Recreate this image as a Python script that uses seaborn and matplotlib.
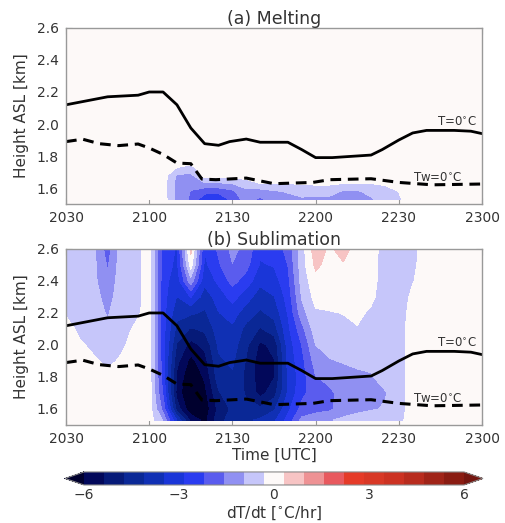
import numpy as np
import matplotlib
matplotlib.use("Agg")
import matplotlib.pyplot as plt
from matplotlib.colors import ListedColormap, BoundaryNorm
import seaborn as sns

sns.set_style("white")
plt.rcParams["font.family"] = ["DejaVu Sans"]
plt.rcParams["text.color"] = "#333333"
plt.rcParams["axes.labelcolor"] = "#333333"
plt.rcParams["xtick.color"] = "#333333"
plt.rcParams["ytick.color"] = "#333333"

# ---- axes ticks (time in minutes after 2030 UTC) ----
tick_minutes = [0, 30, 60, 90, 120, 150]
tick_labels = ["2030", "2100", "2130", "2200", "2230", "2300"]
height_ticks = [1.6, 1.8, 2.0, 2.2, 2.4, 2.6]
cbar_ticks = [-6, -3, 0, 3, 6]

# ---- 0 degC isotherm height (km) ----
t0_minutes = [0, 15, 26, 30, 35, 40, 45, 50, 55, 59, 65, 70, 80, 85, 90, 96,
              110, 114, 120, 125, 130, 140, 146, 150]
t0_height = [2.12, 2.17, 2.18, 2.20, 2.20, 2.12, 1.975, 1.877, 1.867, 1.89,
             1.906, 1.886, 1.886, 1.84, 1.79, 1.79, 1.806, 1.84, 1.90, 1.944,
             1.96, 1.96, 1.955, 1.94]

# ---- wet-bulb 0 degC height (km) ----
tw_minutes = [0, 6, 12, 19, 26, 30, 35, 40, 45, 49, 54, 65, 75, 89, 95, 110,
              120, 132, 150]
tw_height = [1.89, 1.905, 1.877, 1.865, 1.875, 1.85, 1.81, 1.756, 1.752,
             1.656, 1.652, 1.662, 1.627, 1.635, 1.652, 1.658, 1.635, 1.62,
             1.625]

# ---- heating rates, one row per time (every 5 min), values bottom -> top ----
grid_minutes = list(range(0, 155, 5))

melt_heights = [1.53, 1.58, 1.63, 1.68, 1.73, 1.78, 2.60]
melt_rate = [
    [0, 0, 0, 0, 0, 0, 0],            # 2030
    [0, 0, 0, 0, 0, 0, 0],
    [0, 0, 0, 0, 0, 0, 0],
    [0, 0, 0, 0, 0, 0, 0],
    [0, 0, 0, 0, 0, 0, 0],
    [0, 0, 0, 0, 0, 0, 0],
    [0, 0, 0, 0, 0, 0, 0],            # 2100
    [0, 0, 0, 0, 0, 0, 0],
    [-1.1, -1.2, -1.2, -1.0, -0.3, 0, 0],
    [-1.7, -1.6, -1.4, -1.1, -0.45, 0, 0],
    [-2.6, -2.0, -1.0, 0, 0, 0, 0],
    [-2.7, -2.0, -1.0, 0, 0, 0, 0],
    [-2.0, -1.7, -0.9, 0, 0, 0, 0],   # 2130
    [-1.3, -1.1, -0.6, 0, 0, 0, 0],
    [-1.7, -1.2, -0.3, 0, 0, 0, 0],
    [-1.2, -1.0, -0.3, 0, 0, 0, 0],
    [-1.1, -0.9, -0.3, 0, 0, 0, 0],
    [-1.0, -0.8, -0.2, 0, 0, 0, 0],
    [-1.1, -0.7, -0.2, 0, 0, 0, 0],   # 2200
    [-1.1, -0.7, -0.2, 0, 0, 0, 0],
    [-1.2, -1.0, -0.3, 0, 0, 0, 0],
    [-1.2, -1.0, -0.3, 0, 0, 0, 0],
    [-1.0, -0.8, -0.3, 0, 0, 0, 0],
    [-0.7, -0.6, -0.2, 0, 0, 0, 0],
    [-0.4, -0.3, 0, 0, 0, 0, 0],      # 2230
    [0, 0, 0, 0, 0, 0, 0],
    [0, 0, 0, 0, 0, 0, 0],
    [0, 0, 0, 0, 0, 0, 0],
    [0, 0, 0, 0, 0, 0, 0],
    [0, 0, 0, 0, 0, 0, 0],
    [0, 0, 0, 0, 0, 0, 0],            # 2300
]

subl_heights = [1.53, 1.6, 1.7, 1.8, 1.9, 2.0, 2.1, 2.2, 2.3, 2.4, 2.5, 2.6]
subl_rate = [
    [0, 0, 0, 0, 0, 0, 0, -0.4, -0.6, -0.6, -0.6, -0.6],                     # 2030
    [0, 0, 0, 0, 0, -0.2, -0.5, -0.6, -0.6, -0.6, -0.6, -0.6],
    [0, 0, 0, 0, -0.2, -0.5, -0.6, -0.7, -0.7, -0.8, -0.8, -0.8],
    [0, 0, 0, -0.1, -0.5, -0.7, -0.8, -1.0, -1.2, -1.4, -1.65, -1.9],
    [0, 0, 0, 0, -0.2, -0.45, -0.6, -0.6, -0.6, -0.6, -0.6, -0.6],
    [0, 0, 0, 0, 0, 0, -0.2, -0.5, -0.6, -0.6, -0.6, -0.6],
    [0, 0, 0, 0, 0, 0, 0, 0, 0, 0, 0, 0],                                    # 2100
    [-1.0, -1.8, -2.3, -2.5, -2.6, -2.6, -2.6, -2.6, -2.6, -2.6, -2.5, -2.5],
    [-3.5, -5.0, -5.6, -5.5, -5.2, -4.8, -4.3, -3.9, -3.5, -3.2, -3.0, -2.9],
    [-5.5, -6.5, -6.8, -6.6, -6.2, -5.6, -4.8, -4.0, -2.8, -1.2, 0.0, 0.5],
    [-6.2, -6.4, -6.2, -5.9, -5.6, -5.2, -4.6, -4.2, -3.8, -3.3, -3.0, -2.8],
    [-5.0, -5.2, -4.8, -4.4, -4.2, -4.0, -3.8, -3.5, -3.2, -2.7, -2.3, -2.1],
    [-4.4, -4.6, -4.4, -4.2, -4.0, -3.8, -3.6, -3.2, -2.6, -2.0, -1.6, -1.4],  # 2130
    [-4.2, -4.6, -4.8, -4.9, -4.8, -4.6, -4.3, -3.8, -3.2, -2.5, -2.0, -1.8],
    [-4.0, -4.6, -5.6, -5.7, -5.7, -5.5, -4.8, -4.2, -3.8, -3.3, -2.9, -2.7],
    [-3.6, -4.2, -5.0, -5.4, -5.4, -5.2, -4.4, -3.9, -3.5, -3.1, -2.8, -2.6],
    [-2.6, -3.0, -3.4, -3.4, -3.3, -3.2, -3.0, -2.8, -2.6, -2.4, -2.2, -2.0],
    [-1.4, -2.0, -2.4, -2.5, -2.4, -2.2, -1.8, -1.2, -0.9, -0.7, -0.6, -0.6],
    [-1.2, -1.8, -1.8, -1.6, -1.3, -0.95, -0.6, -0.4, -0.1, 0.1, 0.45, 0.7],  # 2200
    [-1.0, -1.7, -1.7, -1.4, -1.0, -0.7, -0.5, -0.35, -0.1, 0.0, 0.1, 0.2],
    [-0.8, -1.3, -1.35, -1.2, -0.9, -0.6, -0.45, -0.3, -0.1, 0.0, 0.25, 0.6],
    [-0.7, -1.1, -1.2, -1.1, -0.8, -0.6, -0.35, -0.2, -0.1, 0, 0, 0],
    [-0.6, -1.0, -1.1, -1.0, -0.8, -0.6, -0.5, -0.4, -0.2, -0.1, -0.1, 0],
    [-0.5, -0.9, -1.0, -0.7, -0.6, -0.6, -0.6, -0.6, -0.6, -0.6, -0.6, -0.6],
    [-0.5, -0.6, -0.6, -0.6, -0.6, -0.6, -0.6, -0.6, -0.6, -0.6, -0.6, -0.6],  # 2230
    [0, 0, 0, 0, 0, 0, 0, -0.1, -0.2, -0.35, -0.45, -0.5],
    [0, 0, 0, 0, 0, 0, 0, 0, 0, 0, 0, 0],
    [0, 0, 0, 0, 0, 0, 0, 0, 0, 0, 0, 0],
    [0, 0, 0, 0, 0, 0, 0, 0, 0, 0, 0, 0],
    [0, 0, 0, 0, 0, 0, 0, 0, 0, 0, 0, 0],
    [0, 0, 0, 0, 0, 0, 0, 0, 0, 0, 0, 0],                                    # 2300
]

# ---- diverging palette: 19 bins between -6 and 6 ----
bin_colors = ["#02085a", "#061a78", "#0a2896", "#1030b4", "#1a36d8",
              "#2a3cf0", "#5a5cee", "#9090f2", "#c6c6fa", "#fdf9f8",
              "#f7c4c4", "#ee9294", "#e8595e", "#e53b28", "#d83826",
              "#cc3222", "#b82c1e", "#a02418", "#8a1c12"]
levels = np.linspace(-6, 6, 20)
cmap = ListedColormap(bin_colors)
cmap.set_under("#00002e")
cmap.set_over("#741610")
norm = BoundaryNorm(levels, cmap.N)

fig = plt.figure(figsize=(5.05, 5.23), dpi=100)
ax_a = fig.add_axes([0.1307, 0.6099, 0.8238, 0.3366])
ax_b = fig.add_axes([0.1307, 0.1874, 0.8238, 0.3366])
cax = fig.add_axes([0.1287, 0.0727, 0.8277, 0.0249])

panels = [
    (ax_a, melt_heights, melt_rate, "(a) Melting"),
    (ax_b, subl_heights, subl_rate, "(b) Sublimation"),
]

for ax, heights, rate, title in panels:
    ax.set_facecolor(bin_colors[9])
    field = np.array(rate, dtype=float).T
    cf = ax.contourf(grid_minutes, heights, field, levels=levels, cmap=cmap,
                     norm=norm, extend="both")

    sns.lineplot(x=t0_minutes, y=t0_height, ax=ax, color="black", lw=2.0,
                 sort=False, estimator=None)
    sns.lineplot(x=tw_minutes, y=tw_height, ax=ax, color="black", lw=2.2,
                 linestyle=(0, (3.5, 2.2)), sort=False, estimator=None)

    ax.text(141, 2.01, "T=0$^{\\circ}$C", ha="center", va="center",
            fontsize=8.5, color="#333333")
    ax.text(134, 1.66, "Tw=0$^{\\circ}$C", ha="center", va="center",
            fontsize=8.5, color="#333333")

    ax.set_xlim(0, 150)
    ax.set_ylim(1.5, 2.6)
    ax.set_xticks(tick_minutes)
    ax.set_xticklabels(tick_labels)
    ax.set_yticks(height_ticks)
    ax.set_yticklabels([f"{h:.1f}" for h in height_ticks])
    ax.tick_params(direction="in", bottom=True, left=True, top=True,
                   right=True, length=4, width=0.8, color="#999999",
                   labelsize=10, pad=5)
    for sp in ax.spines.values():
        sp.set_color("#999999")
        sp.set_linewidth(1.0)
    ax.set_ylabel("Height ASL [km]", fontsize=11, labelpad=6)
    ax.set_xlabel("")
    ax.set_title(title, fontsize=12.5, pad=3)

ax_b.set_xlabel("Time [UTC]", fontsize=11, labelpad=1)

cb = fig.colorbar(cf, cax=cax, orientation="horizontal", ticks=cbar_ticks)
cb.ax.minorticks_off()
cb.ax.tick_params(length=0, labelsize=10, pad=2)
cb.outline.set_edgecolor("#888888")
cb.outline.set_linewidth(0.8)
cb.set_label("dT/dt [$^{\\circ}$C/hr]", fontsize=11, labelpad=2)

fig.savefig("out.png", dpi=100, facecolor="white")
